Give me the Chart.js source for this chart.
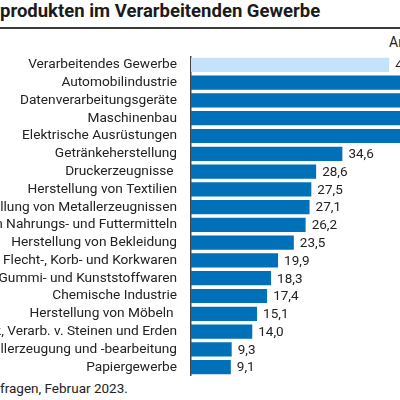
<!DOCTYPE html>
<html lang="de">
<head>
<meta charset="utf-8">
<script src="https://cdn.jsdelivr.net/npm/chart.js@4"></script>
<style>
  html, body { margin: 0; padding: 0; }
  body { width: 400px; height: 400px; position: relative; overflow: hidden; background: #fff; font-family: Roboto, sans-serif; color: #222; }
  .cut { position: absolute; right: 100%; white-space: nowrap; }
  #title { position: absolute; left: 0; top: 0; font-size: 18.5px; font-weight: bold; white-space: nowrap; color: #1b1b1b; }
  #rule { position: absolute; left: 0; top: 27px; width: 400px; height: 2px; background: #3a3a3a; }
  #unit { position: absolute; left: 389px; top: 34px; font-size: 14px; white-space: nowrap; color: #222; }
  #source { position: absolute; left: 0; top: 380px; font-size: 13.5px; white-space: nowrap; color: #222; }
  #chart { position: absolute; left: -200px; top: 56px; }
</style>
</head>
<body>
<div id="title"><span class="cut">Materialknappheit bei Vor</span>produkten im Verarbeitenden Gewerbe</div>
<div id="rule"></div>
<div id="unit">Anteil in %</div>
<canvas id="chart" width="791" height="320" style="width:791px;height:320px"></canvas>
<div id="source"><span class="cut">Quelle: ifo Konjunkturum</span>fragen, Februar 2023.</div>
<script>
const branchen = [
  'Verarbeitendes Gewerbe',
  'Automobilindustrie',
  'Datenverarbeitungsgeräte',
  'Maschinenbau',
  'Elektrische Ausrüstungen',
  'Getränkeherstellung',
  'Druckerzeugnisse ',
  'Herstellung von Textilien',
  'Herstellung von Metallerzeugnissen',
  'Herstellung von Nahrungs- und Futtermitteln',
  'Herstellung von Bekleidung',
  'Herstellung von Holz-, Flecht-, Korb- und Korkwaren',
  'Herstellung von Gummi- und Kunststoffwaren',
  'Chemische Industrie',
  'Herstellung von Möbeln ',
  'Glas, Keramik, Verarb. v. Steinen und Erden',
  'Metallerzeugung und -bearbeitung',
  'Papiergewerbe'
];
const anteile = [45.3, 69.8, 63.4, 62.1, 59.5, 34.6, 28.6, 27.5, 27.1, 26.2, 23.5, 19.9, 18.3, 17.4, 15.1, 14.0, 9.3, 9.1];
const farben = branchen.map((b, i) => i === 0 ? '#c4e3f8' : '#0070b9');

const valueLabels = {
  id: 'valueLabels',
  afterDatasetsDraw(chart) {
    const { ctx } = chart;
    const meta = chart.getDatasetMeta(0);
    ctx.save();
    ctx.font = '13.5px Roboto, sans-serif';
    ctx.fillStyle = '#222';
    ctx.textBaseline = 'middle';
    ctx.textAlign = 'left';
    meta.data.forEach((bar, i) => {
      ctx.fillText(anteile[i].toFixed(1).replace('.', ','), bar.x + 6, bar.y + 1);
    });
    ctx.restore();
  }
};

new Chart(document.getElementById('chart'), {
  type: 'bar',
  data: {
    labels: branchen,
    datasets: [{ data: anteile, backgroundColor: farben, borderWidth: 0, categoryPercentage: 1, barPercentage: 0.8 }]
  },
  options: {
    indexAxis: 'y',
    responsive: false,
    animation: false,
    layout: { padding: { left: 0, right: 50, top: 0, bottom: 0 } },
    plugins: { legend: { display: false }, tooltip: { enabled: false } },
    scales: {
      x: { display: false, min: 0, max: 80 },
      y: {
        grid: { display: false, drawTicks: false },
        border: { display: true, color: '#444', width: 1.5 },
        ticks: { color: '#222', font: { family: 'Roboto', size: 13.7 }, padding: 14, autoSkip: false },
        afterFit(scale) {
          scale.width = 391;
          scale.paddingTop = 0;
          scale.paddingBottom = 0;
        }
      }
    }
  },
  plugins: [valueLabels]
});
</script>
</body>
</html>
